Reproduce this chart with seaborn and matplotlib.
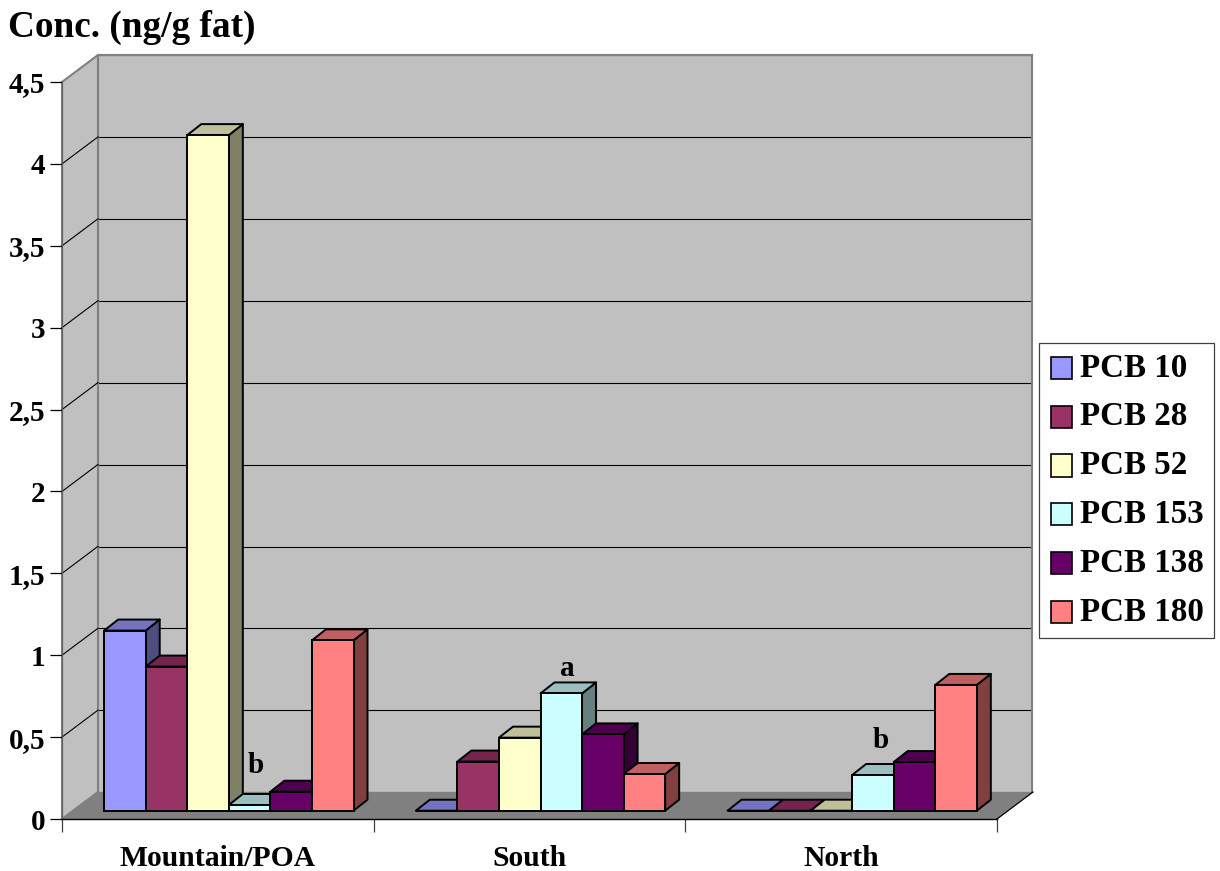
import matplotlib
matplotlib.use("Agg")
import matplotlib.pyplot as plt
import numpy as np
import pandas as pd
import seaborn as sns
from matplotlib.colors import to_rgb
from matplotlib.lines import Line2D
from matplotlib.patches import Polygon
from matplotlib.transforms import IdentityTransform

regions = ["Mountain/POA", "South", "North"]
congeners = ["PCB 10", "PCB 28", "PCB 52", "PCB 153", "PCB 138", "PCB 180"]
pcb_10 = [1.10, 0.0, 0.0]
pcb_28 = [0.88, 0.30, 0.0]
pcb_52 = [4.125, 0.446, 0.0]
pcb_153 = [0.035, 0.716, 0.218]
pcb_138 = [0.116, 0.466, 0.297]
pcb_180 = [1.04, 0.224, 0.768]
colors = ["#9999FF", "#993366", "#FFFFCC", "#CCFFFF", "#660066", "#FF8080"]
y_ticks = [0, 0.5, 1, 1.5, 2, 2.5, 3, 3.5, 4, 4.5]
y_tick_labels = ["0", "0,5", "1", "1,5", "2", "2,5", "3", "3,5", "4", "4,5"]
sig_region = [0, 1, 2]
sig_congener = [3, 3, 3]
sig_letter = ["b", "a", "b"]

W, H = 1220, 871
SERIF = "Liberation Serif"
plt.rcParams["font.family"] = SERIF
plt.rcParams["font.weight"] = "bold"

series = [pcb_10, pcb_28, pcb_52, pcb_153, pcb_138, pcb_180]
df = pd.DataFrame(
    [(r, c, s[i]) for c, s in zip(congeners, series) for i, r in enumerate(regions)],
    columns=["Region", "Congener", "Conc"],
)

fig = plt.figure(figsize=(W / 100, H / 100), dpi=100, facecolor="white")


def add_box(left, top, right, bottom, **kw):
    """Add axes given pixel edges measured from the top-left corner."""
    return fig.add_axes(
        [left / W, 1 - bottom / H, (right - left) / W, (bottom - top) / H], **kw
    )


# Pseudo-3D box: back wall, floor and side wall share one value scale.
WALL_DX, WALL_DY = 36, 27
BAR_DX, BAR_DY = 14, 11

ax_back = add_box(98, 55.5, 1032, 792, zorder=0, facecolor="#C0C0C0")
ax_front = add_box(62, 82, 997, 819, zorder=1)
ax_bars = add_box(73, 73.7, 1008, 810.7, zorder=2)

for ax in (ax_back, ax_front, ax_bars):
    ax.set_xlim(-0.5, 2.5)
    ax.set_ylim(0, 4.5)

ax_back.set_xticks([])
ax_back.set_yticks(y_ticks)
ax_back.tick_params(length=0, labelleft=False)
ax_back.grid(axis="y", color="black", lw=0.8)
ax_back.set_axisbelow(True)
for name, spine in ax_back.spines.items():
    spine.set_color("#808080")
    spine.set_linewidth(1.5)
ax_back.spines["bottom"].set_visible(False)

ax_front.patch.set_visible(False)
ax_front.set_xticks(range(len(regions)), regions)
ax_front.set_xticks(np.arange(-0.5, 3), minor=True)
ax_front.set_yticks(y_ticks, y_tick_labels)
ax_front.tick_params(axis="x", which="major", length=0, pad=19, labelsize=21.3)
ax_front.tick_params(axis="x", which="minor", length=9, width=0.9, color="#404040")
ax_front.tick_params(axis="y", length=8.5, width=0.9, pad=3.5, labelsize=21)
ax_front.spines["top"].set_visible(False)
ax_front.spines["right"].set_visible(False)
ax_front.spines["left"].set_color("#606060")
ax_front.spines["bottom"].set_linewidth(1.0)

pix = IdentityTransform()
to_px = ax_front.transData.transform
fl, fb = to_px((-0.5, 0))
fr, _ = to_px((2.5, 0))
_, ft = to_px((-0.5, 4.5))

fig.add_artist(Polygon(
    [(fl, fb), (fl, ft), (fl + WALL_DX, ft + WALL_DY), (fl + WALL_DX, fb + WALL_DY)],
    transform=pix, facecolor="#C0C0C0", edgecolor="#808080", lw=1.5, zorder=0.5,
))
fig.add_artist(Polygon(
    [(fl, fb), (fr, fb), (fr + WALL_DX, fb + WALL_DY), (fl + WALL_DX, fb + WALL_DY)],
    transform=pix, facecolor="#808080", edgecolor="none", zorder=0.6,
))
fig.add_artist(Line2D(
    [fr, fr + WALL_DX], [fb, fb + WALL_DY], transform=pix, color="black", lw=0.9, zorder=0.7,
))
for v in y_ticks[1:-1]:
    _, yy = to_px((-0.5, v))
    fig.add_artist(Line2D(
        [fl, fl + WALL_DX], [yy, yy + WALL_DY], transform=pix, color="black", lw=0.8, zorder=0.7,
    ))

# Front faces come from seaborn; side and top faces are derived from each bar.
sns.barplot(
    data=df, x="Region", y="Conc", hue="Congener", order=regions, hue_order=congeners,
    palette=colors, width=0.8, gap=0, saturation=1, errorbar=None,
    edgecolor="black", linewidth=1.4, ax=ax_bars,
)
ax_bars.set_xlim(-0.5, 2.5)
ax_bars.set_ylim(0, 4.5)
ax_bars.patch.set_visible(False)
ax_bars.set_xlabel("")
ax_bars.set_ylabel("")

bb = ax_bars.get_window_extent()
dx = BAR_DX * 3 / bb.width
dy = BAR_DY * 4.5 / bb.height

faces = []
for container, color in zip(ax_bars.containers, colors):
    for bar in container:
        faces.append((bar, color))
faces.sort(key=lambda f: f[0].get_x())

face_kw = dict(edgecolor="black", lw=1.4, joinstyle="round", clip_on=False)
for i, (bar, color) in enumerate(faces):
    x0, x1 = bar.get_x(), bar.get_x() + bar.get_width()
    h = bar.get_height()
    rgb = np.array(to_rgb(color))
    z = 10 + i
    ax_bars.add_patch(Polygon(
        [(x1, 0), (x1 + dx, dy), (x1 + dx, h + dy), (x1, h)],
        facecolor=rgb * 0.5, zorder=z, **face_kw,
    ))
    ax_bars.add_patch(Polygon(
        [(x0, h), (x1, h), (x1 + dx, h + dy), (x0 + dx, h + dy)],
        facecolor=rgb * 0.75, zorder=z, **face_kw,
    ))
    bar.set_zorder(z + 0.5)
    bar.set_clip_on(False)

sig_offsets = [(6, 32), (6, 17), (7.5, 27)]
for r, c, letter, (ox, oy) in zip(sig_region, sig_congener, sig_letter, sig_offsets):
    bar = ax_bars.containers[c][r]
    ax_bars.annotate(
        letter,
        (bar.get_x() + bar.get_width() / 2, bar.get_height()),
        xytext=(ox * 0.72, oy * 0.72), textcoords="offset points",
        ha="center", va="baseline", fontsize=21, zorder=50,
    )

ax_bars.set_axis_off()

sns.move_legend(
    ax_bars, "upper left", bbox_to_anchor=(1038.5 / W, 1 - 342.7 / H),
    bbox_transform=fig.transFigure, title=None, frameon=True, fancybox=False,
    edgecolor="#404040", framealpha=1, fontsize=23.8, borderpad=0.3, labelspacing=0.54,
    handlelength=0.66, handleheight=0.66, handletextpad=0.3, borderaxespad=0,
)
frame = ax_bars.get_legend().get_frame()
frame.set_linewidth(0.9)
for handle in ax_bars.get_legend().get_patches():
    handle.set_linewidth(1.2)
    handle.set_x(handle.get_x() + 1.5)
    handle.set_y(handle.get_y() - 2)

fig.text(8 / W, 1 - 37 / H, "Conc. (ng/g fat)", fontsize=26.8, ha="left", va="baseline")

fig.savefig("out.png", dpi=100, facecolor="white")
